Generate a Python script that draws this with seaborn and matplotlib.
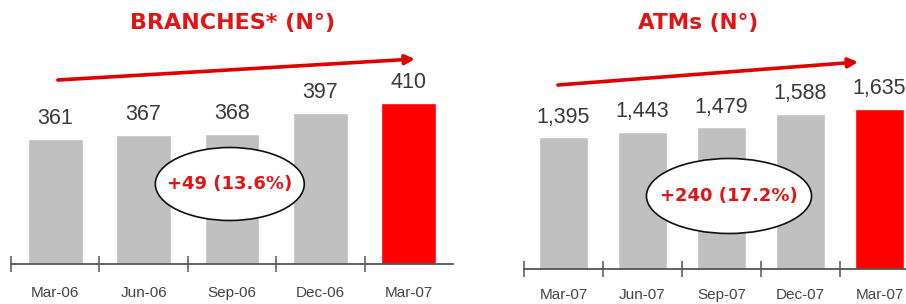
"""Branches and ATMs bar panels."""

import matplotlib
matplotlib.use("Agg")
import matplotlib.pyplot as plt
import numpy as np
import pandas as pd
import seaborn as sns
from matplotlib.patches import Ellipse

branch_periods = ["Mar-06", "Jun-06", "Sep-06", "Dec-06", "Mar-07"]
branch_counts = [361, 367, 368, 397, 410]
branch_change = "+49 (13.6%)"

atm_periods = ["Mar-07", "Jun-07", "Sep-07", "Dec-07", "Mar-07"]
atm_counts = [1395, 1443, 1479, 1588, 1635]
atm_change = "+240 (17.2%)"

GREY = "#c0c0c0"
RED = "#ff0000"
TITLE_RED = "#e01515"
ARIAL = ["Liberation Sans", "DejaVu Sans"]

sns.set_style("white")
plt.rcParams["font.family"] = ["DejaVu Sans"]

W, H = 906, 304
fig = plt.figure(figsize=(W / 100, H / 100), dpi=100)


def px_axes(left, right, bottom, height):
    return fig.add_axes([left / W, (H - bottom) / H, (right - left) / W, height / H])


def draw_panel(ax, periods, counts, ylim, change, ell, arrow, width, lpad):
    df = pd.DataFrame({
        "slot": np.arange(len(counts)),
        "count": counts,
        "kind": ["prev"] * (len(counts) - 1) + ["current"],
    })
    sns.barplot(data=df, x="slot", y="count", hue="kind", dodge=False,
                palette={"prev": GREY, "current": RED}, saturation=1,
                width=width, errorbar=None, legend=False, ax=ax)
    for cont in ax.containers:
        labs = [f"{int(round(v)):,}" for v in cont.datavalues]
        ax.bar_label(cont, labels=labs, padding=7, fontsize=15.5,
                     family=ARIAL, color="#3a3a3a")
    ax.set_ylim(*ylim)
    ax.set_xlim(-0.5, 4.5)
    ax.set_xlabel("")
    ax.set_ylabel("")
    ax.set_yticks([])
    for s in ["top", "left", "right"]:
        ax.spines[s].set_visible(False)
    ax.spines["bottom"].set_color("#555555")
    ax.spines["bottom"].set_linewidth(1.3)
    ax.set_xticks(np.arange(len(counts)) - 0.5)
    ax.set_xticklabels([])
    ax.tick_params(axis="x", which="major", bottom=True, direction="inout",
                   length=11, width=1.1, color="#555555")
    ax.set_xticks(np.arange(len(counts)), minor=True)
    ax.set_xticklabels(periods, minor=True, fontsize=11, family=ARIAL,
                       color="#444444")
    ax.tick_params(axis="x", which="minor", bottom=True, length=0, pad=lpad)
    ax.patch.set_alpha(0)

    e = Ellipse(ell[:2], ell[2], ell[3], transform=ax.transAxes,
                facecolor="white", edgecolor="#111111", lw=1.2, zorder=5)
    ax.add_patch(e)
    ax.text(ell[0], ell[1], change, transform=ax.transAxes, ha="center",
            va="center", color=TITLE_RED, fontsize=13, fontweight="bold", zorder=6)
    ax.annotate("", xy=arrow[1], xytext=arrow[0], xycoords="axes fraction",
                textcoords="axes fraction", annotation_clip=False,
                arrowprops=dict(arrowstyle="-|>", color="#e00000", lw=2.6,
                                mutation_scale=14, shrinkA=0, shrinkB=0))


ax1 = px_axes(11, 453, 264, 200)
draw_panel(ax1, branch_periods, branch_counts, (191, 191 + 200 * 1.36),
           branch_change, (0.495, 0.40, 0.337, 0.365),
           ((0.106, 0.92), (0.914, 1.025)), 0.62, 16)

ax2 = px_axes(524, 919, 269, 200)
draw_panel(ax2, atm_periods, atm_counts, (303, 303 + 200 * 8.3),
           atm_change, (0.519, 0.365, 0.418, 0.375),
           ((0.086, 0.92), (0.846, 1.035)), 0.63, 14)

fig.text(233 / W, 1 - 23 / H, "BRANCHES* (N°)", ha="center", va="center",
         color=TITLE_RED, fontsize=16, fontweight="bold")
fig.text(698 / W, 1 - 23 / H, "ATMs (N°)", ha="center", va="center",
         color=TITLE_RED, fontsize=15.5, fontweight="bold")

fig.savefig("out.png", dpi=100, facecolor="white")
